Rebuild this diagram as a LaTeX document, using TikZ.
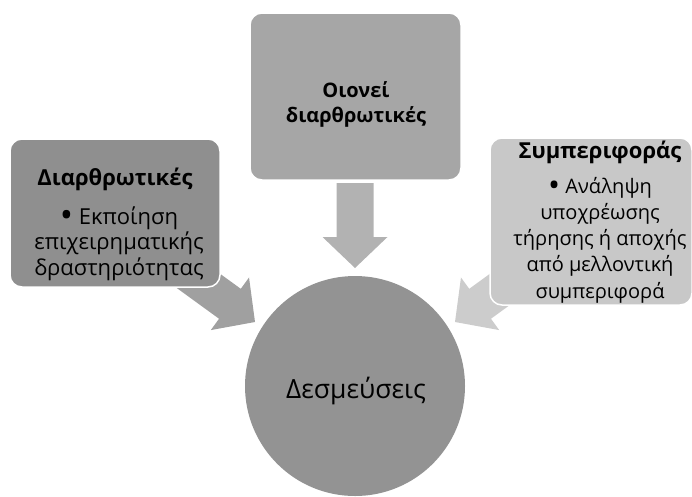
\documentclass[tikz,border=0pt]{standalone}
\usepackage{fontspec}
\setmainfont{Open Sans}
\usetikzlibrary{calc}
\definecolor{leftc}{RGB}{143,143,143}
\definecolor{topc}{RGB}{166,166,166}
\definecolor{rightc}{RGB}{200,200,200}
\definecolor{circc}{RGB}{147,147,147}
\definecolor{larrc}{RGB}{160,160,160}
\definecolor{tarrc}{RGB}{178,178,178}
\definecolor{rarrc}{RGB}{204,204,204}
\newcommand\bul{\raisebox{-0.17em}{\scalebox{1.6}{•}}}
\tikzset{
  box/.style={draw=white, line width=1.5pt, rounded corners=12pt, inner sep=0pt},
  txt/.style={align=center, anchor=base, inner sep=0pt},
  ttlA/.style={txt, font=\bfseries\fontsize{22}{26}\selectfont},
  ttlB/.style={txt, font=\bfseries\fontsize{20}{25}\selectfont},
  bodyA/.style={txt, font=\fontsize{22}{25.5}\selectfont},
  bodyB/.style={txt, font=\fontsize{20}{26.2}\selectfont},
  big/.style={txt, font=\fontsize{26.5}{30}\selectfont},
}
\newcommand\blockarrow[3]{%
  \fill[#3] (#1) -- ($(#1)+(#2+180:31)+(#2+90:32.5)$) -- ($(#1)+(#2+180:31)+(#2+90:18.5)$)
    -- ($(#1)+(#2+180:85)+(#2+90:18.5)$) -- ($(#1)+(#2+180:85)+(#2-90:18.5)$)
    -- ($(#1)+(#2+180:31)+(#2-90:18.5)$) -- ($(#1)+(#2+180:31)+(#2-90:32.5)$) -- cycle;}
\begin{document}
\begin{tikzpicture}[x=1pt,y=-1pt]
\useasboundingbox (0,0) rectangle (692,496);
\clip (0,0) rectangle (692,496);
% arrow tips
\coordinate (tipT) at (355,268);
\coordinate (tipL) at (255,322);
\coordinate (tipR) at (455,322);
\blockarrow{tipT}{90}{tarrc}
\blockarrow{tipL}{36}{larrc}
\blockarrow{tipR}{144}{rarrc}
% boxes
\node[box, fill=leftc, minimum width=210pt, minimum height=148pt] (lbox) at (115,213) {};
\node[box, fill=topc, minimum width=211pt, minimum height=167pt] (tbox) at (355.5,96.5) {};
\node[box, fill=rightc, minimum width=202pt, minimum height=167pt] (rbox) at (591,221.5) {};
\node[circle, fill=circc, minimum size=220pt, inner sep=0pt] (circ) at (355,386) {};
% texts (base anchor = baseline of the last line)
\node[ttlA] (ltitle) at (115,185) {Διαρθρωτικές};
\node[bodyA] (ltext) at (119,275) {\bul\ Εκποίηση\\επιχειρηματικής\\δραστηριότητας};
\node[ttlB] (ttext) at (356,122) {Οιονεί\\διαρθρωτικές};
\node[ttlA] (rtitle) at (600,158) {Συμπεριφοράς};
\node[bodyB] (rtext) at (600,298) {\bul\ Ανάληψη\\υποχρέωσης\\τήρησης ή αποχής\\από μελλοντική\\συμπεριφορά};
\node[big] (ctext) at (356,398) {Δεσμεύσεις};
\end{tikzpicture}
\end{document}
